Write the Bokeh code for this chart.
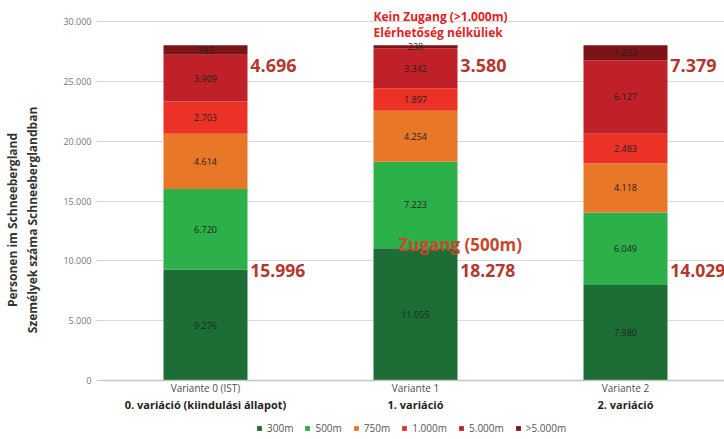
from bokeh.plotting import figure
from bokeh.models import ColumnDataSource, FixedTicker, Legend, LegendItem, Range1d, Span
from bokeh.core.properties import value
from bokeh.embed import file_html
from bokeh.resources import INLINE

# ---------------- data ----------------
variants_de = ["Variante 0 (IST)", "Variante 1", "Variante 2"]
variants_hu = ["0. variáció (kiindulási állapot)", "1. variáció", "2. variáció"]
bands = ["300m", "500m", "750m", "1.000m", "5.000m", ">5.000m"]
v300 = [9276, 11055, 7980]
v500 = [6720, 7223, 6049]
v750 = [4614, 4254, 4118]
v1000 = [2703, 1897, 2483]
v5000 = [3909, 3342, 6127]
v_over5000 = [787, 238, 1252]
y_ticks = [0, 5000, 10000, 15000, 20000, 25000, 30000]
y_tick_labels = ["0", "5.000", "10.000", "15.000", "20.000", "25.000", "30.000"]
axis_title = ["Personen im Schneebergland", "Személyek száma Schneeberglandban"]
note_access = "Zugang (500m)"
note_noaccess = ["Kein Zugang (>1.000m)", "Elérhetőség nélküliek"]

colors = ["#1d6e36", "#2bb04a", "#e87828", "#ec3226", "#c02028", "#7a1416"]
FONT = value("Open Sans")


def fmt(v):
    return f"{v:,}".replace(",", ".")


series = [v300, v500, v750, v1000, v5000, v_over5000]
xs = list(range(len(variants_de)))

data = {"x": xs}
for b, s in zip(bands, series):
    data[b] = s
src = ColumnDataSource(data)

p = figure(width=724, height=439,
           x_range=Range1d(-0.5, 2.4714), y_range=Range1d(-4930, 31755),
           output_backend="svg", toolbar_location=None,
           x_axis_location=None,
           min_border_left=100, min_border_right=0, min_border_top=0, min_border_bottom=0)
p.outline_line_color = None
p.xgrid.visible = False
p.ygrid.ticker = FixedTicker(ticks=y_ticks)
p.ygrid.grid_line_color = "#d9d9d9"

yax = p.yaxis[0]
yax.ticker = FixedTicker(ticks=y_ticks)
yax.major_label_overrides = dict(zip(y_ticks, y_tick_labels))
yax.axis_line_color = None
yax.major_tick_out = 4
yax.major_tick_in = 0
yax.major_tick_line_color = "#c8c8c8"
yax.minor_tick_line_color = None
yax.major_label_text_font = "Open Sans"
yax.major_label_text_font_size = "9px"
yax.major_label_text_color = "#777777"
yax.axis_label = "\n".join(axis_title)
yax.axis_label_text_font = "Open Sans"
yax.axis_label_text_font_size = "12px"
yax.axis_label_text_font_style = "bold"
yax.axis_label_text_color = "#333333"
yax.axis_label_standoff = 19

# baseline at zero
p.add_layout(Span(location=0, dimension="width", line_color="#c4c4c4", line_width=1.5))

renderers = p.vbar_stack(stackers=bands, x="x", width=0.4, color=colors,
                         line_color=None, source=src)

# segment labels
lx, ly, lt = [], [], []
for i in xs:
    base = 0
    for s in series:
        v = s[i]
        lx.append(i)
        ly.append(base + v / 2)
        lt.append(fmt(v))
        base += v
p.text(x=lx, y=ly, text=lt, text_font=FONT, text_font_size="9px",
       text_color="#222222", text_align="center", text_baseline="middle")

# totals
access = [a + b for a, b in zip(v300, v500)]
noaccess = [a + b for a, b in zip(v5000, v_over5000)]
tx = [i + 0.213 for i in xs]
p.text(x=tx, y=[26300] * 3, text=[fmt(v) for v in noaccess], text_font=FONT,
       text_font_size="18px", text_font_style="bold", text_color="#b4382f",
       text_align="left", text_baseline="middle")
p.text(x=tx, y=[9200] * 3, text=[fmt(v) for v in access], text_font=FONT,
       text_font_size="17.5px", text_font_style="bold", text_color="#b4382f",
       text_align="left", text_baseline="middle")

p.text(x=[0.919], y=[11365], text=[note_access], text_font=FONT,
       text_font_size="17px", text_font_style="bold", text_color="#c9482c",
       text_align="left", text_baseline="middle")
p.text(x=[0.8, 0.8], y=[30418, 29081], text=note_noaccess, text_font=FONT,
       text_font_size="12px", text_font_style="bold", text_color="#e02424",
       text_align="left", text_baseline="middle")

# category labels
p.text(x=xs, y=[-668] * 3, text=variants_de, text_font=FONT, text_font_size="10px",
       text_color="#4d4d4d", text_align="center", text_baseline="middle")
p.text(x=xs, y=[-2006] * 3, text=variants_hu, text_font=FONT, text_font_size="11px",
       text_font_style="bold", text_color="#222222", text_align="center",
       text_baseline="middle")

legend = Legend(items=[LegendItem(label=b, renderers=[r]) for b, r in zip(bands, renderers)],
                orientation="horizontal", location=(156, 4),
                glyph_width=6, glyph_height=6, label_height=10, label_width=10,
                label_standoff=5, spacing=11, padding=0, margin=0,
                label_text_font="Open Sans", label_text_font_size="10px",
                label_text_color="#555555", border_line_color=None,
                background_fill_alpha=0)
p.add_layout(legend)

open("out.html", "w").write(file_html(p, INLINE))
